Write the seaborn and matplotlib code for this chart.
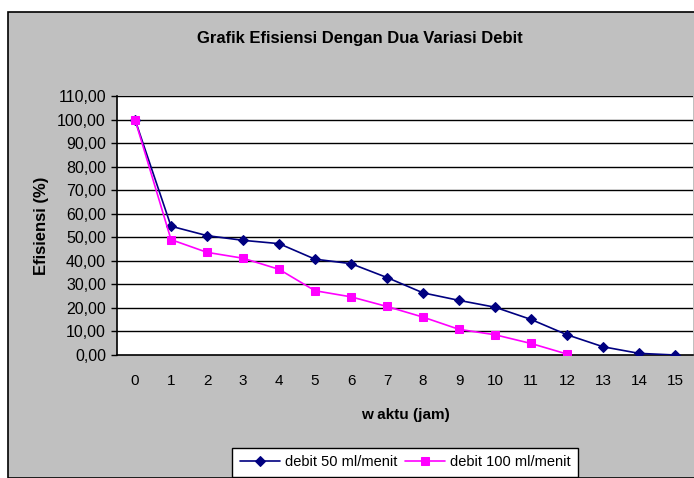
import numpy as np
import pandas as pd
import matplotlib
matplotlib.use("Agg")
import matplotlib.pyplot as plt
import seaborn as sns
from matplotlib.patches import Rectangle
from matplotlib.ticker import FuncFormatter

# data
jam = list(range(16))
debit_50 = [100.0, 54.7, 50.7, 48.7, 47.3, 40.7, 38.8, 32.9, 26.4, 23.2, 20.3, 15.1, 8.6, 3.5, 0.7, 0.0]
jam_100 = list(range(13))
debit_100 = [100.0, 49.0, 43.6, 41.1, 36.4, 27.3, 24.7, 20.6, 16.1, 10.9, 8.6, 4.9, 0.4]
y_ticks = list(range(0, 111, 10))

sns.set_style("white")
plt.rcParams['font.family'] = ['Liberation Sans', 'DejaVu Sans']
plt.rcParams.update({"text.color": "black", "axes.labelcolor": "black",
                     "xtick.color": "black", "ytick.color": "black"})

fig = plt.figure(figsize=(6.94, 4.78), dpi=100)
fig.patch.set_facecolor("white")
# grey chart area with black frame (left/top visible)
W, H = 694, 478
fig.patches.append(Rectangle((8 / W, 0), 1, 1 - 12 / H, transform=fig.transFigure,
                             facecolor="#C0C0C0", edgecolor="black", linewidth=1.2, zorder=-5))

ax = fig.add_axes([117 / W, 1 - 355 / H, 576 / W, 259 / H])
ax.set_facecolor("white")

df50 = pd.DataFrame({"jam": jam, "eff": debit_50})
df100 = pd.DataFrame({"jam": jam_100, "eff": debit_100})
sns.lineplot(data=df50, x="jam", y="eff", ax=ax, color="#000080", marker="D", markersize=5.5,
             markeredgecolor="#000080", linewidth=1.2, label="debit 50 ml/menit", zorder=4)
sns.lineplot(data=df100, x="jam", y="eff", ax=ax, color="#FF00FF", marker="s", markersize=6,
             markeredgecolor="#FF00FF", linewidth=1.2, label="debit 100 ml/menit", zorder=5)

ax.set_xlim(-0.5, 15.5)
ax.set_ylim(0, 110)
ax.set_yticks(y_ticks)
ax.yaxis.set_major_formatter(FuncFormatter(lambda v, p: f"{v:.2f}".replace(".", ",")))
ax.set_xticks(jam)
ax.set_xticklabels([str(j) for j in jam])
ax.set_xticks(np.arange(-0.5, 16, 1), minor=True)
ax.tick_params(axis="x", which="major", length=0, labelsize=11, pad=14)
ax.tick_params(axis="x", which="minor", length=4, width=1, color="black", direction="out")
ax.tick_params(axis="y", length=4, width=1, color="black", direction="out", labelsize=11.5, pad=4, left=True)
for yv in y_ticks[1:]:
    ax.axhline(yv, color="black", linewidth=1, zorder=1)

for s in ["top", "right"]:
    ax.spines[s].set_visible(False)
for s in ["left", "bottom"]:
    ax.spines[s].set_color("black")
    ax.spines[s].set_linewidth(1.2)

ax.set_xlabel("w aktu (jam)", fontsize=11, fontweight="bold", labelpad=14)
ax.set_ylabel("Efisiensi (%)", fontsize=12, fontweight="bold", labelpad=6)
fig.text(360 / W, 1 - 39 / H, "Grafik Efisiensi Dengan Dua Variasi Debit",
         ha="center", va="center", fontsize=12, fontweight="bold")

ax.get_legend().remove()
handles, labels = ax.get_legend_handles_labels()
leg = fig.legend(handles, labels, loc="upper center", bbox_to_anchor=(405 / W, 1 - 448 / H),
                 ncol=2, frameon=True, fancybox=False, edgecolor="black", framealpha=1,
                 fontsize=10.5, handlelength=2.8, columnspacing=0.5, handletextpad=0.3,
                 borderaxespad=0, borderpad=0.5)
leg.get_frame().set_linewidth(1)

fig.savefig("out.png", dpi=100)
